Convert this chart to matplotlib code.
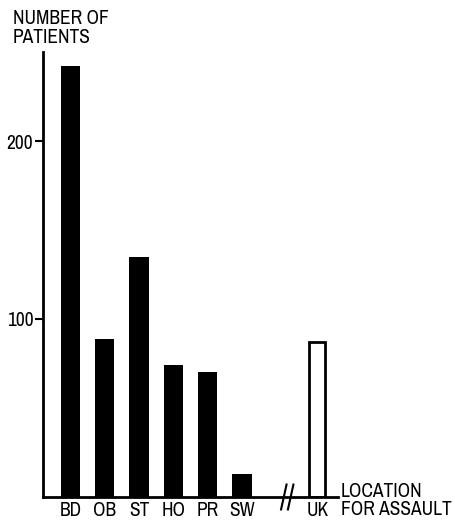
import matplotlib
matplotlib.use('Agg')
import matplotlib.pyplot as plt

# Data
locations = ['BD', 'OB', 'ST', 'HO', 'PR', 'SW']
patients = [242, 89, 135, 74, 70, 13]
unknown_label = 'UK'
unknown_count = 87

plt.rcParams['font.family'] = ['Archivo Narrow', 'DejaVu Sans']
FS = 14

fig = plt.figure(figsize=(4.55, 5.21), dpi=100)
# axes in pixel terms: left 43, right 338, top 52, bottom 497
W, H = 455.0, 521.0
ax = fig.add_axes([43 / W, (H - 497) / H, (338 - 43) / W, (497 - 52) / H])

xpos = list(range(len(locations)))
ax.bar(xpos, patients, width=0.56, color='black')
uk_x = 7.2
ax.bar([uk_x], [unknown_count], width=0.47, facecolor='white',
       edgecolor='black', linewidth=2)

ax.set_xlim(-0.8, 7.8)
ax.set_ylim(0, 250)

for s in ['top', 'right']:
    ax.spines[s].set_visible(False)
for s in ['left', 'bottom']:
    ax.spines[s].set_linewidth(2)

ax.set_yticks([100, 200])
ax.set_yticklabels(['100', '200'], fontsize=FS)
ax.tick_params(axis='y', length=6, width=1.5, pad=1)
ax.set_xticks(xpos + [uk_x])
ax.set_xticklabels(locations + [unknown_label], fontsize=FS)
ax.tick_params(axis='x', length=0, pad=3)

# axis break marks
for bx in [6.22, 6.42]:
    ax.plot([bx - 0.08, bx + 0.08], [-7, 7], color='black', lw=1.5,
            clip_on=False)

fig.text(13 / W, 1 - 9 / H, 'NUMBER OF\nPATIENTS', fontsize=FS, va='top',
         ha='left', linespacing=1.0)
fig.text(341 / W, 1 - 482 / H, 'LOCATION\nFOR ASSAULT', fontsize=FS,
         va='top', ha='left', linespacing=0.95)

fig.savefig('out.png', dpi=100)
